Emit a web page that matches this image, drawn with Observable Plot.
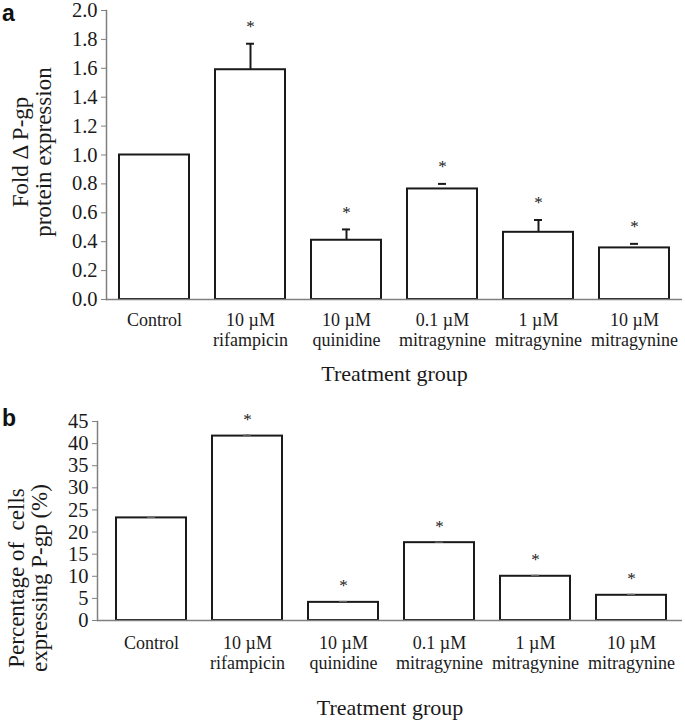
<!DOCTYPE html>
<html>
<head>
<meta charset="utf-8">
<script src="https://cdn.jsdelivr.net/npm/d3@7"></script>
<script src="https://cdn.jsdelivr.net/npm/@observablehq/plot@0.6"></script>
<style>
  html, body { margin: 0; padding: 0; background: white; }
  #wrap { position: relative; width: 685px; height: 725px; }
  .panel { position: absolute; left: 0; }
  .panel svg { overflow: visible; }
  .letter { position: absolute; left: 2px; font: bold 23px "Liberation Sans", Arial, sans-serif; line-height: normal; color: #111; }
</style>
</head>
<body>
<div id="wrap">
  <div id="pa" class="panel" style="top:0px"></div>
  <div id="pb" class="panel" style="top:390px"></div>
  <div class="letter" style="top:0px">a</div>
  <div class="letter" style="top:405px">b</div>
</div>
<script>
const groups = ["Control", "10 µM\nrifampicin", "10 µM\nquinidine", "0.1 µM\nmitragynine", "1 µM\nmitragynine", "10 µM\nmitragynine"];

// Panel a: fold change in P-gp protein expression
const foldValues = [1.00, 1.59, 0.41, 0.765, 0.465, 0.357];
const foldSD = [0, 0.18, 0.075, 0.035, 0.085, 0.028];
const foldTicks = [0, 0.2, 0.4, 0.6, 0.8, 1.0, 1.2, 1.4, 1.6, 1.8, 2.0];

// Panel b: percentage of cells expressing P-gp
const pctValues = [23.2, 41.7, 4.1, 17.6, 10.0, 5.7];
const pctSD = [0.1, 0.2, 0.2, 0.1, 0.2, 0.2];
const pctTicks = [0, 5, 10, 15, 20, 25, 30, 35, 40, 45];

const significant = [false, true, true, true, true, true];

const serif = "'Liberation Serif', 'Times New Roman', serif";
const ink = "#1a1a1a";
const axisGrey = "#808080";

function rows(values, sds) {
  return groups.map((g, i) => ({group: g, value: values[i], top: values[i] + sds[i], sd: sds[i], sig: significant[i]}));
}

function panel({data, ticks, domain, height, marginLeft, marginTop, marginBottom, xRange, yFormat, ytitle, ytitleDx, ytitleDy, tickPad, titleDy, starDy, capStroke}) {
  return Plot.plot({
    width: 685,
    height,
    marginLeft,
    marginRight: 3,
    marginTop,
    marginBottom,
    style: {fontFamily: serif, fontSize: "18px", color: ink, background: "white"},
    x: {domain: groups, range: xRange, paddingInner: 0.27, paddingOuter: 0.135, label: null},
    y: {domain, label: null},
    marks: [
      Plot.frame({anchor: "left", stroke: axisGrey, strokeWidth: 1.5}),
      Plot.axisY({ticks, tickFormat: yFormat, tickSize: 5, tickPadding: 4, stroke: axisGrey, fontSize: 20.5, label: null}),
      Plot.axisX({tickSize: 0, tickPadding: tickPad, fontSize: 18, label: null, lineHeight: 1.12}),
      Plot.barY(data, {x: "group", y: "value", fill: "white", stroke: ink, strokeWidth: 2}),
      Plot.ruleX(data.filter(d => d.sd > 0.05), {x: "group", y1: "value", y2: "top", stroke: ink, strokeWidth: 2}),
      Plot.tickY(data.filter(d => d.sd > 0), {x: "group", y: "top", stroke: capStroke.color, strokeWidth: capStroke.width, insetLeft: 31, insetRight: 31}),
      Plot.ruleY([0], {stroke: axisGrey, strokeWidth: 1.5}),
      Plot.text(data.filter(d => d.sig), {x: "group", y: "top", text: () => "*", dy: starDy, fontSize: 17, fill: ink}),
      Plot.text(["Treatment group"], {frameAnchor: "bottom", dy: titleDy, fontSize: 22, fill: ink}),
      Plot.text([ytitle], {frameAnchor: "left", textAnchor: "middle", dx: ytitleDx, dy: ytitleDy, rotate: -90, fontSize: 23, lineHeight: 0.98, fill: ink})
    ]
  });
}

document.getElementById("pa").appendChild(panel({
  data: rows(foldValues, foldSD),
  ticks: foldTicks,
  domain: [0, 2],
  height: 390,
  marginLeft: 106,
  marginTop: 10,
  marginBottom: 91,
  xRange: [106, 682],
  yFormat: d3.format(".1f"),
  ytitle: "Fold \u0394 P-gp\nprotein expression",
  ytitleDx: -74,
  ytitleDy: -3,
  tickPad: 12,
  titleDy: 81,
  starDy: -17,
  capStroke: {color: ink, width: 2}
}));

document.getElementById("pb").appendChild(panel({
  data: rows(pctValues, pctSD),
  ticks: pctTicks,
  domain: [0, 45],
  height: 335,
  marginLeft: 97,
  marginTop: 31,
  marginBottom: 105,
  xRange: [101, 682],
  yFormat: d3.format("d"),
  ytitle: "Percentage of  cells\nexpressing P-gp (%)",
  ytitleDx: -69,
  ytitleDy: 57,
  tickPad: 14,
  titleDy: 94,
  starDy: -16,
  capStroke: {color: "#666", width: 1.2}
}));
</script>
</body>
</html>
